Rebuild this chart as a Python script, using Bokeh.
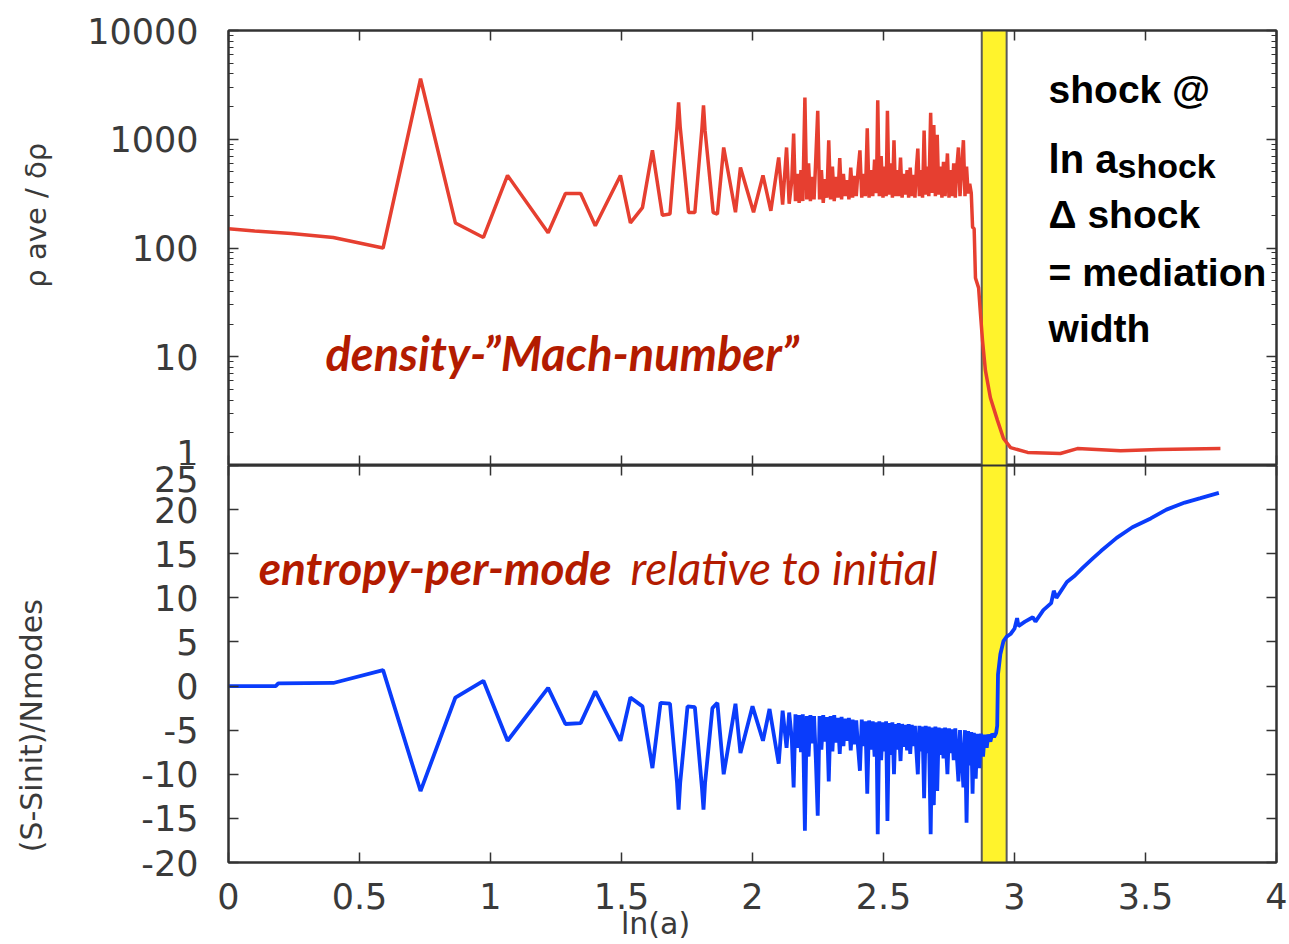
import json
from bokeh.plotting import figure
from bokeh.models import (Range1d, LinearAxis, LogAxis, FixedTicker, BoxAnnotation, Span,
                          Label, ColumnDataSource, NumeralTickFormatter, CustomJSTickFormatter)
from bokeh.layouts import column
from bokeh.embed import file_html
from bokeh.resources import INLINE

# ---------------- data ----------------
x_ticks = [0, 0.5, 1, 1.5, 2, 2.5, 3, 3.5, 4]
y_ticks_top = [1, 10, 100, 1000, 10000]
y_minor_top = [m * 10 ** k for k in range(4) for m in range(2, 10)]
y_ticks_bottom = [-20, -15, -10, -5, 0, 5, 10, 15, 20, 25]

x_title = "ln(a)"
y_title_top = "\u03c1 ave / \u03b4\u03c1"
y_title_bottom = "(S-Sinit)/Nmodes"

shock_left = 2.875
shock_right = 2.97

ln_a_top = [
    0.00, 0.10, 0.24, 0.40, 0.59, 0.733, 0.866, 0.973, 1.065, 1.22, 1.286, 1.344, 1.40, 1.496, 1.534,
    1.58, 1.618, 1.656, 1.685, 1.712, 1.718, 1.724, 1.756, 1.780, 1.807, 1.813, 1.819, 1.850, 1.866,
    1.890, 1.935, 1.954, 2.004, 2.040, 2.070, 2.100, 2.115, 2.130, 2.140, 2.150,
    2.157, 2.164, 2.171, 2.178, 2.185, 2.192, 2.200, 2.207, 2.214, 2.221,
    2.228, 2.235, 2.242, 2.249, 2.256, 2.263, 2.270, 2.277, 2.284, 2.291,
    2.298, 2.305, 2.312, 2.319, 2.326, 2.333, 2.340, 2.347, 2.354, 2.361,
    2.368, 2.375, 2.382, 2.389, 2.396, 2.403, 2.410, 2.417, 2.424, 2.431,
    2.438, 2.445, 2.452, 2.459, 2.466, 2.473, 2.478, 2.484, 2.491, 2.498,
    2.505, 2.510, 2.515, 2.521, 2.528, 2.534, 2.540, 2.546, 2.552, 2.558,
    2.565, 2.571, 2.578, 2.584, 2.590, 2.596, 2.602, 2.608, 2.614, 2.620,
    2.626, 2.631, 2.637, 2.643, 2.649, 2.655, 2.661, 2.667, 2.673, 2.680,
    2.686, 2.692, 2.698, 2.705, 2.711, 2.717, 2.723, 2.729, 2.735, 2.744,
    2.750, 2.756, 2.762, 2.768, 2.774, 2.780, 2.786, 2.792, 2.798, 2.805,
    2.811, 2.817, 2.823, 2.829, 2.835,
    2.840, 2.846, 2.851, 2.863, 2.870, 2.878, 2.889, 2.908, 2.935, 2.958, 2.985,
    3.05, 3.175, 3.24, 3.405, 3.55, 3.786]

rho_ratio = [
    150, 143, 136, 125, 100, 3600, 170, 125, 465, 138, 317, 317, 160, 465, 170,
    235, 790, 200, 205, 1300, 2180, 1300, 212, 212, 1250, 2050, 1200, 212, 205,
    840, 213, 550, 213, 465, 220, 680, 250, 840, 255, 420,
    1130, 270, 480, 260, 520, 270, 2420, 280, 600, 270,
    450, 280, 700, 1830, 280, 520, 260, 430, 290, 980,
    280, 560, 270, 450, 290, 670, 280, 480, 300, 420,
    280, 550, 290, 460, 300, 520, 790, 290, 480, 300,
    1260, 290, 520, 300, 650, 320, 2280, 300, 700, 290,
    560, 300, 1830, 310, 600, 290, 980, 300, 520, 300,
    680, 290, 480, 310, 520, 290, 550, 300, 470, 290,
    560, 820, 300, 520, 290, 1200, 310, 560, 300, 1750,
    320, 1350, 300, 1100, 310, 560, 290, 620, 300, 740,
    290, 520, 300, 600, 290, 560, 840, 300, 520, 980,
    300, 560, 317, 390, 320,
    155, 150, 53, 43, 25, 14, 7.5, 4.2, 2.6, 1.77, 1.46,
    1.32, 1.29, 1.43, 1.37, 1.40, 1.43]

ln_a_bottom = [
    0.00, 0.18, 0.19, 0.40, 0.59, 0.733, 0.866, 0.973, 1.065, 1.22, 1.286, 1.344, 1.40, 1.496, 1.534,
    1.58, 1.618, 1.649, 1.685, 1.712, 1.718, 1.724, 1.752, 1.780, 1.807, 1.813, 1.819, 1.847, 1.866,
    1.890, 1.935, 1.954, 2.000, 2.040, 2.065, 2.100, 2.115, 2.130, 2.140, 2.150,
    2.157, 2.164, 2.171, 2.178, 2.185, 2.192, 2.200, 2.207, 2.214, 2.221,
    2.228, 2.235, 2.242, 2.249, 2.256, 2.263, 2.270, 2.277, 2.284, 2.291,
    2.298, 2.305, 2.312, 2.319, 2.326, 2.333, 2.340, 2.347, 2.354, 2.361,
    2.368, 2.375, 2.382, 2.389, 2.396, 2.403, 2.410, 2.417, 2.424, 2.431,
    2.438, 2.445, 2.452, 2.459, 2.466, 2.473, 2.478, 2.484, 2.491, 2.498,
    2.505, 2.510, 2.515, 2.521, 2.528, 2.534, 2.540, 2.546, 2.552, 2.558,
    2.565, 2.571, 2.578, 2.584, 2.590, 2.596, 2.602, 2.608, 2.614, 2.620,
    2.626, 2.631, 2.637, 2.643, 2.649, 2.655, 2.661, 2.667, 2.673, 2.680,
    2.686, 2.692, 2.698, 2.705, 2.711, 2.717, 2.723, 2.729, 2.735, 2.744,
    2.750, 2.756, 2.762, 2.768, 2.774, 2.780, 2.786, 2.792, 2.798, 2.805,
    2.811, 2.817, 2.823, 2.829, 2.835,
    2.840, 2.845, 2.852, 2.858, 2.866, 2.872, 2.880, 2.886, 2.894, 2.900, 2.908, 2.915, 2.922, 2.930,
    2.934, 2.937, 2.946, 2.958, 2.970, 2.985, 3.000, 3.010, 3.015, 3.040, 3.070, 3.080, 3.110, 3.140,
    3.150, 3.160, 3.200, 3.230, 3.260, 3.300, 3.330, 3.390, 3.450, 3.520, 3.580, 3.650, 3.710, 3.780]

entropy = [
    0.0, 0.0, 0.3, 0.35, 1.8, -11.9, -1.3, 0.6, -6.2, -0.2, -4.3, -4.2, -0.6, -6.2, -1.3,
    -2.3, -9.3, -1.9, -2.0, -11.0, -14.0, -11.0, -2.3, -2.4, -11.5, -14.0, -11.0, -2.5, -1.9,
    -10.0, -2.0, -7.6, -2.3, -6.2, -2.6, -8.8, -2.8, -7.0, -3.0, -6.0,
    -11.5, -3.2, -7.0, -3.3, -7.5, -3.2, -16.4, -3.4, -8.0, -3.3,
    -6.5, -3.4, -8.5, -14.7, -3.4, -7.2, -3.3, -6.3, -3.5, -10.8,
    -3.4, -7.4, -3.3, -6.4, -3.6, -7.7, -3.5, -6.8, -3.7, -6.2,
    -3.6, -7.3, -3.8, -6.6, -3.9, -7.0, -9.6, -3.8, -6.8, -4.0,
    -12.2, -3.9, -7.2, -4.0, -8.0, -4.1, -16.8, -4.0, -8.4, -4.1,
    -7.4, -4.0, -15.3, -4.2, -7.8, -4.1, -10.0, -4.3, -7.2, -4.2,
    -8.5, -4.3, -6.9, -4.4, -7.3, -4.3, -7.7, -4.4, -6.8, -4.5,
    -7.6, -10.0, -4.5, -7.4, -4.6, -12.7, -4.5, -7.6, -4.6, -16.8,
    -4.7, -13.5, -4.6, -11.9, -4.7, -7.8, -4.8, -8.2, -4.7, -10.0,
    -4.8, -7.6, -4.9, -8.4, -4.8, -8.0, -10.8, -5.0, -7.9, -11.5,
    -5.0, -15.5, -5.1, -9.0, -5.2,
    -12.2, -5.3, -10.5, -5.4, -9.3, -5.4, -8.0, -5.5, -7.0, -5.5, -6.3, -5.4, -5.8, -5.3,
    -4.5, 1.3, 3.6, 5.1, 5.6, 5.9, 6.5, 7.7, 6.8, 7.3, 7.8, 7.3, 8.6, 9.4,
    10.8, 10.0, 11.8, 12.5, 13.4, 14.5, 15.3, 16.8, 18.0, 19.0, 20.0, 20.8, 21.3, 21.9]

assert len(ln_a_top) == len(rho_ratio), (len(ln_a_top), len(rho_ratio))
assert len(ln_a_bottom) == len(entropy), (len(ln_a_bottom), len(entropy))

# ---------------- style ----------------
W = 1289
FRAME = "#333333"
TICK_FONT = "DejaVu Sans"
TEXT_GREY = "#3a3a3a"
RED = "#e63f30"
BLUE = "#0a3cfb"
ANN_RED = "#b31b00"
YELLOW = "#fff32c"


def style_axis(ax, show, ticker, fmt=None):
    ax.ticker = ticker
    ax.axis_line_color = FRAME
    ax.axis_line_width = 2
    ax.major_tick_in = 10
    ax.major_tick_out = 0
    ax.minor_tick_in = 5
    ax.minor_tick_out = 0
    ax.major_tick_line_color = FRAME
    ax.major_tick_line_width = 1.5
    ax.minor_tick_line_color = FRAME
    ax.minor_tick_line_width = 1.2
    if show:
        ax.formatter = fmt
        ax.major_label_text_font = TICK_FONT
        ax.major_label_text_font_size = "35px"
        ax.major_label_text_color = TEXT_GREY
        ax.major_label_standoff = 30
    else:
        ax.formatter = CustomJSTickFormatter(code="return ''")
        ax.major_label_text_font_size = "1px"
        ax.major_label_standoff = 0


def title_axis(ax, text, pos, size, standoff, vertical):
    """An axis that carries only a title text at a chosen data position."""
    ax.ticker = FixedTicker(ticks=[pos], minor_ticks=[])
    ax.formatter = CustomJSTickFormatter(code="return " + json.dumps(text) + ";")
    ax.axis_line_color = None
    ax.major_tick_line_color = None
    ax.minor_tick_line_color = None
    ax.major_tick_in = 0
    ax.major_tick_out = 0
    ax.minor_tick_in = 0
    ax.minor_tick_out = 0
    ax.major_label_text_font = TICK_FONT
    ax.major_label_text_font_size = size
    ax.major_label_text_color = TEXT_GREY
    ax.major_label_standoff = standoff
    if vertical:
        ax.major_label_orientation = "vertical"


def band(p):
    p.add_layout(BoxAnnotation(left=shock_left, right=shock_right, fill_color=YELLOW,
                               fill_alpha=1.0, line_color=None, level="underlay"))
    for loc in (shock_left, shock_right):
        p.add_layout(Span(location=loc, dimension="height", line_color="#5a5a5a",
                          line_width=2, level="underlay"))


# ---------------- top panel ----------------
x_range = Range1d(0, 4)
p1 = figure(width=W, height=465, x_range=x_range, y_range=Range1d(1, 10000),
            y_axis_type="log", x_axis_location=None, y_axis_location=None,
            output_backend="svg", toolbar_location=None,
            min_border_left=228, min_border_right=13, min_border_top=30, min_border_bottom=0)
p1.grid.visible = False
p1.outline_line_color = FRAME
p1.outline_line_width = 2

ax = LogAxis()
style_axis(ax, True, FixedTicker(ticks=y_ticks_top, minor_ticks=y_minor_top), NumeralTickFormatter(format="0"))
p1.add_layout(ax, "left")
ax = LogAxis()
title_axis(ax, y_title_top, 200, "29px", 31, True)
p1.add_layout(ax, "left")
ax = LogAxis()
style_axis(ax, False, FixedTicker(ticks=y_ticks_top, minor_ticks=y_minor_top))
p1.add_layout(ax, "right")
for side in ("above", "below"):
    ax = LinearAxis()
    style_axis(ax, False, FixedTicker(ticks=x_ticks, minor_ticks=[]))
    p1.add_layout(ax, side)

band(p1)
src_top = ColumnDataSource(dict(x=ln_a_top, y=rho_ratio))
p1.line("x", "y", source=src_top, line_color=RED, line_width=3.5)

p1.add_layout(Label(x=0.37, y=6.0, text="density-\u201dMach-number\u201d",
                    text_font="Lato", text_font_style="bold italic",
                    text_font_size="47px", text_color=ANN_RED))

SHOCK_FONT = "Liberation Sans"
for txt, yy in (("shock @", 1800), ("\u0394 shock", 128), ("= mediation", 38.1), ("width", 11.6)):
    p1.add_layout(Label(x=3.13, y=yy, text=txt, text_font=SHOCK_FONT, text_font_style="bold",
                        text_font_size="39px", text_color="black"))
p1.add_layout(Label(x=3.13, y=409, text="ln a", text_font=SHOCK_FONT, text_font_style="bold",
                    text_font_size="40px", text_color="black"))
p1.add_layout(Label(x=3.393, y=376, text="shock", text_font=SHOCK_FONT, text_font_style="bold",
                    text_font_size="34px", text_color="black"))

# ---------------- bottom panel ----------------
p2 = figure(width=W, height=479, x_range=x_range, y_range=Range1d(-20, 25),
            x_axis_location=None, y_axis_location=None,
            output_backend="svg", toolbar_location=None,
            min_border_left=228, min_border_right=13, min_border_top=0, min_border_bottom=82)
p2.grid.visible = False
p2.outline_line_color = FRAME
p2.outline_line_width = 2

ax = LinearAxis()
style_axis(ax, True, FixedTicker(ticks=y_ticks_bottom, minor_ticks=[]), NumeralTickFormatter(format="0"))
p2.add_layout(ax, "left")
ax = LinearAxis()
title_axis(ax, y_title_bottom, -4.5, "30px", 89, True)
p2.add_layout(ax, "left")
ax = LinearAxis()
style_axis(ax, False, FixedTicker(ticks=y_ticks_bottom, minor_ticks=[]))
p2.add_layout(ax, "right")
ax = LinearAxis()
style_axis(ax, False, FixedTicker(ticks=x_ticks, minor_ticks=[]))
p2.add_layout(ax, "above")
ax = LinearAxis()
style_axis(ax, True, FixedTicker(ticks=x_ticks, minor_ticks=[]), NumeralTickFormatter(format="0.[0]"))
ax.major_label_standoff = 20
p2.add_layout(ax, "below")
ax = LinearAxis()
title_axis(ax, x_title, 1.63, "30px", -6, False)
p2.add_layout(ax, "below")

band(p2)
src_bot = ColumnDataSource(dict(x=ln_a_bottom, y=entropy))
p2.line("x", "y", source=src_bot, line_color=BLUE, line_width=3.8)

p2.add_layout(Label(x=0.115, y=10.3, text="entropy-per-mode", text_font="Lato",
                    text_font_style="bold italic", text_font_size="46px", text_color=ANN_RED))
p2.add_layout(Label(x=1.534, y=10.3, text="relative to initial", text_font="Lato",
                    text_font_style="italic", text_font_size="46px", text_color=ANN_RED))

layout = column(p1, p2, spacing=0)
open("out.html", "w").write(file_html(layout, INLINE))
